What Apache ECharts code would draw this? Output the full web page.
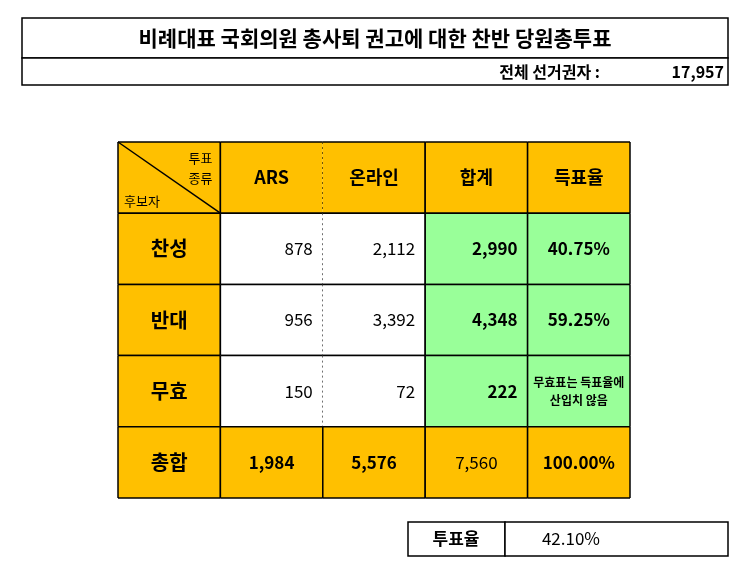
<!DOCTYPE html>
<html><head><meta charset="utf-8">
<script src="https://cdn.jsdelivr.net/npm/echarts@6/dist/echarts.min.js"></script>
<style>html,body{margin:0;background:#fff}#c{width:750px;height:585px}</style>
</head><body><div id="c"></div>
<script>
const FONT = '"Noto Sans CJK KR", sans-serif'
const title = '비례대표 국회의원 총사퇴 권고에 대한 찬반 당원총투표'
const voters = '17,957'
const turnout = '42.10%'
const columns = ['', 'ARS', '온라인', '합계', '득표율']
const rowNames = ['찬성', '반대', '무효', '총합']
const ars = [878, 956, 150, 1984]
const online = [2112, 3392, 72, 5576]
const total = [2990, 4348, 222, 7560]
const rate = ['40.75%', '59.25%', '무효표는 득표율에\n산입치 않음', '100.00%']

const ORANGE = '#FFC000', GREEN = '#99FF99', WHITE = '#fff'
const fmt = v => v.toLocaleString('en-US')

// cell list: [col, row, text, fill, bold, align, size]
const cells = []
columns.forEach((c, i) => cells.push([i, 0, c, ORANGE, true, 'center', 18]))
rowNames.forEach((r, k) => {
  const y = k + 1, last = k === 3
  cells.push([0, y, r, ORANGE, true, 'center', 20])
  cells.push([1, y, fmt(ars[k]), last ? ORANGE : WHITE, last, last ? 'center' : 'right', 17])
  cells.push([2, y, fmt(online[k]), last ? ORANGE : WHITE, last, last ? 'center' : 'right', 17])
  cells.push([3, y, fmt(total[k]), last ? ORANGE : GREEN, !last, last ? 'center' : 'right', 17])
  cells.push([4, y, rate[k], last ? ORANGE : GREEN, true, 'center', k === 2 ? 12 : 17])
})

function renderItem(params, api) {
  const col = api.value(0), row = api.value(1)
  const d = cells[params.dataIndex]
  const c = api.coord([col, row]), s = api.size([1, 1])
  const x0 = c[0] - s[0] / 2, y0 = c[1] - s[1] / 2, x1 = x0 + s[0], y1 = y0 + s[1]
  const line = (a, b, e, f, dash) => ({type: 'line', shape: {x1: a, y1: b, x2: e, y2: f},
    style: {stroke: '#000', lineWidth: dash ? 1 : 1.5, lineDash: dash ? [2, 3] : null}})
  const kids = [{type: 'rect', shape: {x: x0, y: y0, width: s[0], height: s[1]}, style: {fill: d[3]}}]
  kids.push(line(x0, y0, x1, y0), line(x0, y1, x1, y1))
  if (!(col === 2 && row < 4)) kids.push(line(x0, y0, x0, y1))
  kids.push(line(x1, y0, x1, y1, col === 1 && row < 4))
  if (col === 0 && row === 0) {
    kids.push(line(x0, y0, x1, y1))
    kids.push({type: 'text', style: {text: '투표\n종류', x: x1 - 8, y: y0 + 6, align: 'right', verticalAlign: 'top',
      font: '13px ' + FONT, lineHeight: 20, fill: '#000'}})
    kids.push({type: 'text', style: {text: '후보자', x: x0 + 6, y: y1 - 6, align: 'left', verticalAlign: 'bottom',
      font: '13px ' + FONT, fill: '#000'}})
  } else {
    const tx = d[5] === 'right' ? x1 - 10 : (x0 + x1) / 2
    kids.push({type: 'text', style: {text: d[2], x: tx, y: (y0 + y1) / 2, align: d[5], verticalAlign: 'middle',
      font: (d[4] ? 'bold ' : '') + d[6] + 'px ' + FONT, lineHeight: 18, fill: '#000'}})
  }
  return {type: 'group', children: kids}
}

const chart = echarts.init(document.getElementById('c'))
chart.setOption({
  backgroundColor: '#fff',
  animation: false,
  grid: {left: 118, right: 120, top: 142, bottom: 87},
  xAxis: {type: 'category', data: columns, show: false},
  yAxis: {type: 'category', data: ['h'].concat(rowNames), inverse: true, show: false},
  series: [{type: 'custom', renderItem: renderItem, data: cells.map(c => [c[0], c[1]])}],
  graphic: [
    {type: 'rect', shape: {x: 22, y: 18, width: 706, height: 40}, style: {fill: '#fff', stroke: '#000', lineWidth: 1.5}},
    {type: 'rect', shape: {x: 22, y: 58, width: 706, height: 27}, style: {fill: '#fff', stroke: '#000', lineWidth: 1.5}},
    {type: 'text', style: {text: title, x: 375, y: 38, align: 'center', verticalAlign: 'middle', font: 'bold 21px ' + FONT, fill: '#000'}},
    {type: 'text', style: {text: '전체 선거권자 :', x: 600, y: 72, align: 'right', verticalAlign: 'middle', font: 'bold 16px ' + FONT, fill: '#000'}},
    {type: 'text', style: {text: voters, x: 724, y: 72, align: 'right', verticalAlign: 'middle', font: 'bold 16px ' + FONT, fill: '#000'}},
    {type: 'rect', shape: {x: 408, y: 522, width: 97, height: 34}, style: {fill: '#fff', stroke: '#000', lineWidth: 1.5}},
    {type: 'rect', shape: {x: 505, y: 522, width: 223, height: 34}, style: {fill: '#fff', stroke: '#000', lineWidth: 1.5}},
    {type: 'text', style: {text: '투표율', x: 456, y: 539, align: 'center', verticalAlign: 'middle', font: 'bold 17px ' + FONT, fill: '#000'}},
    {type: 'text', style: {text: turnout, x: 600, y: 539, align: 'right', verticalAlign: 'middle', font: '17px ' + FONT, fill: '#000'}}
  ]
})
</script></body></html>
